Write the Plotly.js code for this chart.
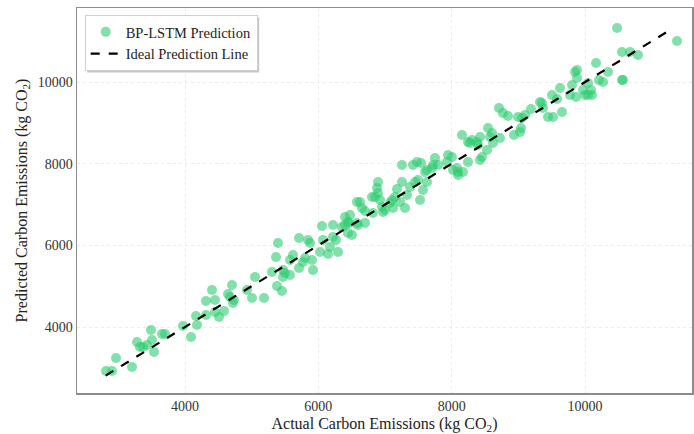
<!DOCTYPE html>
<html>
<head>
<meta charset="utf-8">
<script src="https://cdn.plot.ly/plotly-3.0.1.min.js"></script>
<style>html,body{margin:0;padding:0;background:#fff;}#chart{width:694px;height:434px;}</style>
</head>
<body>
<div id="chart"></div>
<script>
const actual = [2815,2905,2965,3205,3280,3325,3370,3430,3490,3505,3535,3655,3700,3970,4090,4165,4180,4315,4315,4405,4450,4450,4510,4585,4645,4675,4705,4720,4735,4930,5005,5050,5185,5305,5380,5365,5395,5455,5470,5470,5500,5575,5575,5620,5710,5710,5770,5800,5845,5875,5905,5920,6025,6055,6070,6145,6175,6220,6220,6265,6295,6355,6400,6445,6445,6460,6475,6505,6400,6580,6580,6595,6625,6655,6700,6700,6805,6820,6850,6880,6895,6895,6925,6955,6970,7000,7075,7105,7120,7150,7180,7225,7255,7255,7300,7330,7375,7420,7450,7480,7495,7540,7525,7570,7600,7630,7630,7705,7720,7750,7795,7930,7945,8005,8020,8080,8095,8095,8155,8170,8245,8245,8275,8305,8380,8395,8425,8425,8455,8530,8545,8575,8605,8620,8710,8725,8770,8845,8935,8995,9025,9040,9055,9100,9190,9325,9355,9370,9445,9520,9505,9580,9625,9655,9775,9805,9865,9850,9880,9880,9970,10000,10045,10045,10090,10105,10165,10210,10270,10345,10480,10555,10675,10795,10555,10570,11380];
const predicted = [2922,2922,3240,3020,3633,3510,3510,3559,3927,3682,3388,3829,3829,4025,3755,4270,4049,4637,4294,4907,4662,4368,4245,4392,4809,4735,5029,4588,4662,4907,4711,5225,4711,5348,5005,5715,6058,4882,5397,5225,5323,5274,5642,5764,5446,6181,5593,5691,6132,6058,5642,5397,5838,6475,6132,5789,5960,6499,6205,6132,5838,6450,6695,6573,6303,6548,6744,6254,6499,7063,6548,6499,7063,6916,6842,6548,7185,6793,7185,7406,7553,7283,7112,6940,6818,6867,7038,7112,6916,7185,7381,7063,7553,7969,6916,7234,7430,7969,7553,8043,7602,8018,7112,7357,7798,7553,7847,7896,7969,8141,7969,8043,8214,8165,7847,7896,7798,7724,8704,7798,8533,8043,8508,8582,8533,8459,8655,8092,8165,8337,8876,8655,8753,8508,9366,8631,9243,9170,8704,9145,8778,8876,9121,9194,9341,9513,9488,9366,9145,9145,9684,9586,9856,9268,9684,9929,9635,10248,10297,10101,9807,9684,9978,9684,9807,9684,10468,10052,10003,10248,11326,10738,10738,10664,10052,10052,11007];
const idealLine = [2810, 11330];
const tickVals = [4000, 6000, 8000, 10000];
const tickLabels = ['4000', '6000', '8000', '10000'];

const font = "Liberation Serif, Times New Roman, serif";
const traces = [
  {
    x: actual, y: predicted, type: 'scatter', mode: 'markers',
    name: 'BP-LSTM Prediction',
    marker: {color: '#2ecc71', opacity: 0.6, size: 10, line: {width: 0}}
  },
  {
    x: idealLine, y: idealLine, type: 'scatter', mode: 'lines',
    name: 'Ideal Prediction Line',
    line: {color: '#000000', width: 2.2, dash: 'dash'}
  }
];
const axisCommon = {
  showline: true, mirror: true, linecolor: '#8c8c8c', linewidth: 1.5,
  ticks: '',
  showgrid: true, gridcolor: '#ececec', griddash: 'dot', gridwidth: 1,
  zeroline: false, tickvals: tickVals, ticktext: tickLabels,
  tickfont: {family: font, size: 14, color: '#333'}
};
const layout = {
  width: 694, height: 434,
  margin: {l: 77, r: 2, t: 8, b: 41},
  paper_bgcolor: '#fff', plot_bgcolor: '#fff',
  font: {family: font, color: '#222'},
  xaxis: Object.assign({}, axisCommon, {
    range: [2380, 11605],
    title: {text: 'Actual Carbon Emissions (kg CO<sub>2</sub>)', font: {family: font, size: 16, color: '#222'}, standoff: 4}
  }),
  yaxis: Object.assign({}, axisCommon, {
    range: [2383, 11815],
    title: {text: 'Predicted Carbon Emissions (kg CO<sub>2</sub>)', font: {family: font, size: 16, color: '#222'}, standoff: 6}
  }),
  legend: {
    x: 0.0125, y: 0.982, xanchor: 'left', yanchor: 'top',
    bgcolor: '#fff', bordercolor: '#cfcfcf', borderwidth: 1,
    font: {family: font, size: 14.5, color: '#222'},
    entrywidth: 136,
    tracegroupgap: 0
  },
  showlegend: true
};
Plotly.newPlot('chart', traces, layout, {displayModeBar: false, staticPlot: true}).then(function (gd) {
  const bg = gd.querySelector('.legend .bg');
  if (!bg) return;
  const r = bg.getBoundingClientRect();
  const sz = gd._fullLayout._size;
  const toX = px => (px - sz.l) / sz.w;
  const toY = py => (sz.t + sz.h - py) / sz.h;
  const off = 2;
  Plotly.relayout(gd, {shapes: [{
    type: 'rect', xref: 'paper', yref: 'paper', layer: 'above',
    x0: toX(r.left + off), x1: toX(r.right + off),
    y0: toY(r.bottom + off), y1: toY(r.top + off),
    fillcolor: 'rgba(0,0,0,0.22)', line: {width: 0}
  }]});
});
</script>
</body>
</html>
